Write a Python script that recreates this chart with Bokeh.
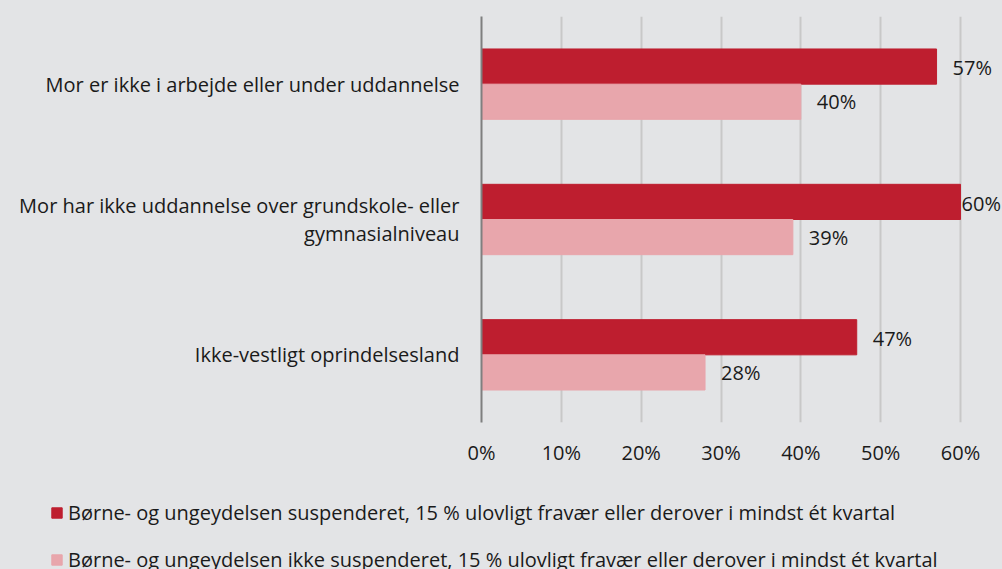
from bokeh.plotting import figure
from bokeh.models import (FactorRange, FixedTicker, ColumnDataSource, Legend, LegendItem,
                          NumeralTickFormatter, GlobalInlineStyleSheet)
from bokeh.transform import dodge
from bokeh.core.properties import value
from bokeh.embed import file_html
from bokeh.resources import INLINE

categories = ["Mor er ikke i arbejde eller under uddannelse",
              "Mor har ikke uddannelse over grundskole- eller\ngymnasialniveau",
              "Ikke-vestligt oprindelsesland"]
suspended = [0.57, 0.60, 0.47]
not_suspended = [0.40, 0.39, 0.28]
series_names = ["Børne- og ungeydelsen suspenderet, 15 % ulovligt fravær eller derover i mindst ét kvartal",
                "Børne- og ungeydelsen ikke suspenderet, 15 % ulovligt fravær eller derover i mindst ét kvartal"]
x_ticks = [0, 0.1, 0.2, 0.3, 0.4, 0.5, 0.6]

BG = "#e3e4e6"
DARK = "#be1e2f"
LIGHT = "#e8a6ac"
FONT = "Open Sans"
TXT = "#1a1a1a"
FS = "20px"
PAGE_CSS = f"html, body {{ background: {BG}; margin: 0; padding: 0; overflow: hidden; }}"

src = ColumnDataSource(dict(
    cat=categories,
    s=suspended,
    n=not_suspended,
    s_lab=[f"{round(v*100)}%" for v in suspended],
    n_lab=[f"{round(v*100)}%" for v in not_suspended],
    s_off=[16 if v < max(x_ticks) else 1 for v in suspended],
    n_off=[16 if v < max(x_ticks) else 1 for v in not_suspended],
))

p = figure(width=1002, height=480, output_backend="svg", toolbar_location=None,
           y_range=FactorRange(factors=categories[::-1]),
           x_range=(0, 0.6526),
           min_border_left=481, min_border_right=0, min_border_top=16, min_border_bottom=58)
p.stylesheets = [GlobalInlineStyleSheet(css=PAGE_CSS)]
p.background_fill_color = BG
p.border_fill_color = BG
p.outline_line_color = None

p.ygrid.grid_line_color = None
p.xgrid.grid_line_color = "#c8c8c8"
p.xgrid.grid_line_width = 2
p.xgrid.ticker = FixedTicker(ticks=x_ticks)

r1 = p.hbar(y=dodge("cat", 0.13, range=p.y_range), right="s", left=0, height=0.26,
            source=src, color=DARK)
r2 = p.hbar(y=dodge("cat", -0.13, range=p.y_range), right="n", left=0, height=0.26,
            source=src, color=LIGHT)

p.text(x="s", y=dodge("cat", 0.12, range=p.y_range), text="s_lab", x_offset="s_off",
       source=src, text_font=value(FONT), text_font_size=FS, text_color=TXT,
       text_baseline="middle", text_align="left")
p.text(x="n", y=dodge("cat", -0.13, range=p.y_range), text="n_lab", x_offset="n_off",
       source=src, text_font=value(FONT), text_font_size=FS, text_color=TXT,
       text_baseline="middle", text_align="left")

p.xaxis.ticker = FixedTicker(ticks=x_ticks)
p.xaxis.formatter = NumeralTickFormatter(format="0%")
p.xaxis.axis_line_color = None
p.xaxis.major_tick_line_color = None
p.xaxis.minor_tick_line_color = None
p.xaxis.major_label_standoff = 10
p.xaxis.major_label_text_font = FONT
p.xaxis.major_label_text_font_size = FS
p.xaxis.major_label_text_color = TXT

p.yaxis.axis_line_color = "#7f7f7f"
p.yaxis.axis_line_width = 2
p.yaxis.major_tick_line_color = None
p.yaxis.minor_tick_line_color = None
p.yaxis.major_label_standoff = 16
p.yaxis.major_label_text_font = FONT
p.yaxis.major_label_text_font_size = FS
p.yaxis.major_label_text_color = TXT
p.yaxis.major_label_text_line_height = 1.05

# legend panel (separate root, so its frame is not aligned with the chart's);
# its key renderers use the same data but lie outside its visible x range
lg = figure(width=1002, height=89, output_backend="svg", toolbar_location=None,
            x_range=(5, 6), y_range=(5, 6),
            min_border_left=0, min_border_right=0, min_border_top=0, min_border_bottom=0)
lg.stylesheets = [GlobalInlineStyleSheet(css=PAGE_CSS)]
lg.axis.visible = False
lg.grid.grid_line_color = None
lg.background_fill_color = BG
lg.border_fill_color = BG
lg.outline_line_color = None
k1 = lg.hbar(y="s", left=0, right="s", height=0.01, source=src, color=DARK)
k2 = lg.hbar(y="n", left=0, right="n", height=0.01, source=src, color=LIGHT)
legend = Legend(items=[LegendItem(label=series_names[0], renderers=[k1]),
                       LegendItem(label=series_names[1], renderers=[k2])],
                location=(50, -4), orientation="vertical",
                glyph_width=13, glyph_height=13, label_standoff=5,
                label_text_font=FONT, label_text_font_size=FS, label_text_color=TXT,
                label_height=20, spacing=20, padding=0, margin=0,
                border_line_color=None, background_fill_alpha=0)
lg.add_layout(legend, "center")

open("out.html", "w").write(file_html([p, lg], INLINE))
